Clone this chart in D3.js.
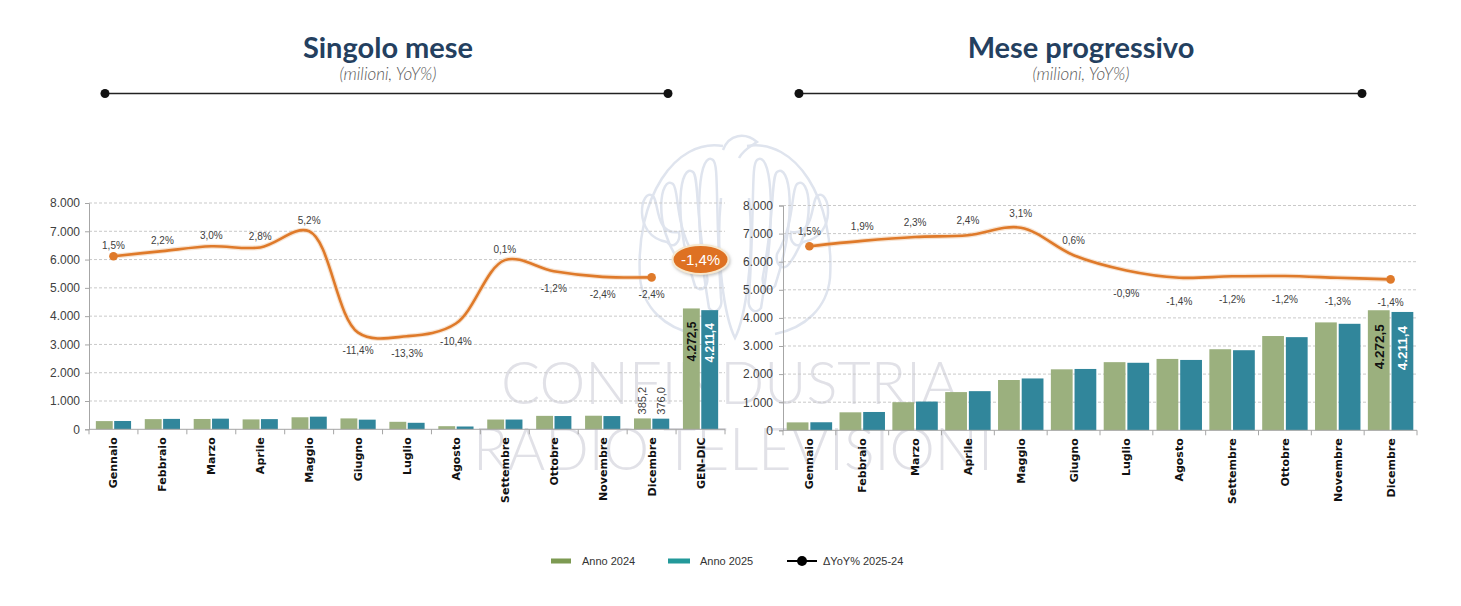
<!DOCTYPE html>
<html>
<head>
<meta charset="utf-8">
<script src="https://cdn.jsdelivr.net/npm/d3@7"></script>
<style>
  body { margin: 0; background: #fff; }
  svg { display: block; }
</style>
</head>
<body>
<div id="chart"></div>
<script>
// ---- data ----
const mesi = ["Gennaio", "Febbraio", "Marzo", "Aprile", "Maggio", "Giugno", "Luglio",
  "Agosto", "Settembre", "Ottobre", "Novembre", "Dicembre"];
const catSingolo = mesi.concat(["GEN-DIC"]);

// singolo mese (milioni)
const singolo2024 = [290, 360, 365, 350, 425, 385, 265, 110, 345, 475, 480, 385.2, 4272.5];
const singolo2025 = [294, 368, 376, 360, 447, 341, 230, 99, 345, 469, 468, 376.0, 4211.4];
const yoySingolo = [1.5, 2.2, 3.0, 2.8, 5.2, -11.4, -13.3, -10.4, 0.1, -1.2, -2.4, -2.4];
// level of the YoY line as drawn on the value axis
const lineSingolo = [6120, 6300, 6470, 6430, 7000, 3420, 3290, 3740, 5980, 5590, 5390, 5370];
const yoyTotale = -1.4;

// mese progressivo (milioni)
const prog2024 = [282, 640, 1000, 1360, 1790, 2170, 2425, 2540, 2885, 3355, 3840, 4272.5];
const prog2025 = [286, 652, 1023, 1393, 1845, 2183, 2403, 2504, 2850, 3315, 3790, 4211.4];
const yoyProg = [1.5, 1.9, 2.3, 2.4, 3.1, 0.6, -0.9, -1.4, -1.2, -1.2, -1.3, -1.4];
const lineProg = [6550, 6740, 6880, 6940, 7210, 6230, 5690, 5430, 5480, 5490, 5430, 5370];

const yTicks = [0, 1000, 2000, 3000, 4000, 5000, 6000, 7000, 8000];
const serie = ["Anno 2024", "Anno 2025"];

// ---- setup ----
const W = 1461, H = 606;
const c24 = "#9bb07e", c25 = "#31869b", cLine = "#df7a2a";

const it = d3.formatLocale({ decimal: ",", thousands: ".", grouping: [3], currency: ["", "€"], minus: "-" });
const fmtK = it.format(",.0f");
const fmtV = it.format(",.1f");
const fmtP = it.format(".1f");

const svg = d3.select("#chart").append("svg")
  .attr("width", W).attr("height", H)
  .style("font-family", "'Liberation Sans', Arial, sans-serif");

svg.append("rect").attr("width", W).attr("height", H).attr("fill", "#fff");

// watermark (logo + name), sits under everything
let wm = svg.append("g").attr("transform", "translate(735,238)")
  .attr("fill", "none").attr("stroke", "#dfe4ee").attr("stroke-width", 2.5);
[-1, 1].forEach(s => {
  for (let k = 0; k < 4; k++) {
    let xt = s * (22 + k * 20), yt = -78 + k * 12;
    let xb = s * (18 + k * 14), yb = 70 - k * 22;
    wm.append("path")
      .attr("d", `M${xt},${yt} C${xt + s * 12},${yt - 10} ${xt + s * 22},${yt + 40} ${xb + s * 8},${yb}
        C${xb + s * 2},${yb + 8} ${xb - s * 6},${yb} ${xb - s * 4},${yb - 10}
        C${xt - s * 2},${yt + 40} ${xt - s * 6},${yt + 5} ${xt},${yt}`);
  }
  wm.append("path")
    .attr("d", `M${s * 12},-92 C${s * 60},-100 ${s * 100},-40 ${s * 95},40 C${s * 92},70 ${s * 70},90 ${s * 40},96`);
});
wm.append("path").attr("d", "M-14,-40 C-20,20 -10,80 0,100 C10,80 20,20 14,-40");
wm.append("path").attr("d", "M-12,-88 C-6,-104 10,-106 22,-96 C16,-92 8,-88 4,-80");
svg.append("text").attr("x", 730).attr("y", 404).attr("text-anchor", "middle")
  .attr("font-family", "Lato, sans-serif").attr("font-weight", 300).attr("font-size", 60)
  .attr("fill", "#e1e1e7").attr("textLength", 458).attr("lengthAdjust", "spacingAndGlyphs")
  .text("CONFINDUSTRIA");
svg.append("text").attr("x", 733).attr("y", 470).attr("text-anchor", "middle")
  .attr("font-family", "Lato, sans-serif").attr("font-weight", 300).attr("font-size", 60)
  .attr("fill", "#e1e1e7").attr("textLength", 520).attr("lengthAdjust", "spacingAndGlyphs")
  .text("RADIO TELEVISIONI");

// titles + rule with dots
function header(cx, x0, x1, title) {
  svg.append("text").attr("x", cx).attr("y", 58).attr("text-anchor", "middle")
    .attr("font-family", "Lato, 'Open Sans', sans-serif").attr("font-weight", 700)
    .attr("font-size", 29).attr("fill", "#24405f").text(title);
  svg.append("text").attr("x", cx).attr("y", 80).attr("text-anchor", "middle")
    .attr("font-family", "Lato, 'Open Sans', sans-serif").attr("font-style", "italic")
    .attr("font-weight", 300).attr("font-size", 17).attr("fill", "#5a5a5a").text("(milioni, YoY%)");
  svg.append("line").attr("x1", x0).attr("x2", x1).attr("y1", 93.5).attr("y2", 93.5)
    .attr("stroke", "#222").attr("stroke-width", 1.5);
  [x0, x1].forEach(x => svg.append("circle").attr("cx", x).attr("cy", 93.5).attr("r", 4.5).attr("fill", "#111"));
}
header(388, 105, 668, "Singolo mese");
header(1081, 799, 1362, "Mese progressivo");

// one panel = bars + smooth yoy line
function panel(o) {
  let w = o.x1 - o.x0, h = o.yBot - o.yTop;
  let g = svg.append("g").attr("transform", `translate(${o.x0},${o.yTop})`);

  let x = d3.scaleBand().domain(o.cats).range([0, w])
    .paddingInner(o.pad).paddingOuter(o.pad / 2);
  let xs = d3.scaleBand().domain(serie).range([0, x.bandwidth()]).paddingInner(0.08);
  let y = d3.scaleLinear().domain([0, 8000]).range([h, 0]);

  // gridlines
  g.append("g").selectAll("line").data(yTicks.slice(1)).join("line")
    .attr("x1", 0).attr("x2", w).attr("y1", d => y(d)).attr("y2", d => y(d))
    .attr("stroke", "#c9c9c9").attr("stroke-dasharray", "3,2");

  // y axis
  let ya = g.append("g").call(d3.axisLeft(y).tickValues(yTicks).tickFormat(fmtK).tickSize(4).tickPadding(o.tickPad));
  ya.select(".domain").attr("stroke", "#a6a6a6");
  ya.selectAll(".tick line").attr("stroke", "#a6a6a6");
  ya.selectAll("text").attr("font-size", 12).attr("fill", "#404040")
    .attr("font-family", "'Liberation Sans', Arial, sans-serif");

  // bars
  let rows = o.cats.map((c, i) => ({ c, i, v: [o.v24[i], o.v25[i]] }));
  let grp = g.append("g").selectAll("g").data(rows).join("g")
    .attr("transform", d => `translate(${x(d.c)},0)`);
  grp.selectAll("rect").data(d => d.v.map((v, j) => ({ s: serie[j], v }))).join("rect")
    .attr("x", d => xs(d.s)).attr("width", xs.bandwidth())
    .attr("y", d => y(d.v)).attr("height", d => h - y(d.v))
    .attr("fill", d => d.s === serie[0] ? c24 : c25);

  // x axis with ticks between categories
  let step = x.step();
  g.append("line").attr("x1", 0).attr("x2", w).attr("y1", h).attr("y2", h)
    .attr("stroke", "#a6a6a6");
  g.append("g").selectAll("line").data(o.cats.concat([null])).join("line")
    .attr("x1", (d, i) => i * step).attr("x2", (d, i) => i * step)
    .attr("y1", h).attr("y2", h + 5).attr("stroke", "#a6a6a6");
  g.append("g").selectAll("text").data(o.cats).join("text")
    .attr("transform", d => `translate(${x(d) + x.bandwidth() / 2},${h + 8}) rotate(-90)`)
    .attr("dy", "0.36em").attr("text-anchor", "end")
    .attr("font-family", "'DejaVu Sans', sans-serif").attr("font-weight", 700)
    .attr("font-size", 11).attr("fill", "#111").text(d => d);

  // value labels
  o.outside.forEach(i => {
    rows[i].v.forEach((v, j) => {
      let cx = x(o.cats[i]) + xs(serie[j]) + xs.bandwidth() / 2;
      g.append("text").attr("transform", `translate(${cx},${y(v) - 4}) rotate(-90)`)
        .attr("dy", "0.35em").attr("font-size", 11).attr("fill", "#404040")
        .text(fmtV(v));
    });
  });
  o.inside.forEach(i => {
    rows[i].v.forEach((v, j) => {
      let cx = x(o.cats[i]) + xs(serie[j]) + xs.bandwidth() / 2;
      g.append("text").attr("transform", `translate(${cx},${y(v) + o.inPad}) rotate(-90)`)
        .attr("dy", "0.36em").attr("text-anchor", "end")
        .attr("font-weight", 700).attr("font-size", o.inSize)
        .attr("fill", j === 0 ? "#111" : "#fff").text(fmtV(v));
    });
  });

  // yoy line
  let pts = o.level.map((v, i) => [x(o.cats[i]) + x.bandwidth() / 2, y(v)]);
  let line = d3.line().curve(d3.curveCatmullRom.alpha(0.5));
  g.append("path").attr("d", line(pts)).attr("fill", "none")
    .attr("stroke", "#f0c7a3").attr("stroke-width", 5).attr("opacity", 0.5);
  g.append("path").attr("d", line(pts)).attr("fill", "none")
    .attr("stroke", cLine).attr("stroke-width", 2.6);
  [0, pts.length - 1].forEach(i => g.append("circle")
    .attr("cx", pts[i][0]).attr("cy", pts[i][1]).attr("r", 4.3).attr("fill", cLine));

  g.append("g").selectAll("text").data(o.yoy).join("text")
    .attr("x", (d, i) => pts[i][0])
    .attr("y", (d, i) => pts[i][1] + (d >= 0 ? o.upOff : o.downOff))
    .attr("text-anchor", "middle").attr("font-size", 10).attr("fill", "#404040")
    .text(d => fmtP(d) + "%");

  return { g, x, y, pts };
}

let left = panel({
  x0: 89, x1: 725, yTop: 203, yBot: 429.3, cats: catSingolo,
  v24: singolo2024, v25: singolo2025, level: lineSingolo, yoy: yoySingolo,
  pad: 0.28, tickPad: 5, outside: [11], inside: [12], inSize: 12, inPad: 13,
  upOff: -7, downOff: 21
});

panel({
  x0: 783, x1: 1417, yTop: 205.5, yBot: 430.3, cats: mesi,
  v24: prog2024, v25: prog2025, level: lineProg, yoy: yoyProg,
  pad: 0.14, tickPad: 6, outside: [], inside: [11], inSize: 13.5, inPad: 14,
  upOff: -11, downOff: 27
});

// total yoy bubble next to the GEN-DIC bars
let last = left.pts[left.pts.length - 1];
let bx = 89 + left.x("GEN-DIC") + left.x.bandwidth() / 2;
let by = 203 + last[1] - 18;
let defs = svg.append("defs");
let f = defs.append("filter").attr("id", "sh").attr("x", "-30%").attr("y", "-30%").attr("width", "160%").attr("height", "160%");
f.append("feDropShadow").attr("dx", 1).attr("dy", 1.5).attr("stdDeviation", 1.5).attr("flood-color", "#999").attr("flood-opacity", 0.6);
svg.append("ellipse").attr("cx", bx).attr("cy", by).attr("rx", 28).attr("ry", 14.5)
  .attr("fill", "#de7120").attr("stroke", "#f6e8cf").attr("stroke-width", 2).attr("filter", "url(#sh)");
svg.append("text").attr("x", bx).attr("y", by).attr("dy", "0.36em").attr("text-anchor", "middle")
  .attr("font-size", 15).attr("fill", "#fff").text(fmtP(yoyTotale) + "%");

// legend
let lg = svg.append("g").attr("transform", "translate(0,561)").attr("font-size", 11).attr("fill", "#333");
lg.append("rect").attr("x", 551).attr("y", -2.5).attr("width", 20).attr("height", 5).attr("fill", "#7d9a52");
lg.append("text").attr("x", 582).attr("dy", "0.35em").text(serie[0]);
lg.append("rect").attr("x", 668).attr("y", -2.5).attr("width", 22).attr("height", 5).attr("fill", "#23999a");
lg.append("text").attr("x", 700).attr("dy", "0.35em").text(serie[1]);
lg.append("line").attr("x1", 787).attr("x2", 817).attr("stroke", "#000").attr("stroke-width", 2);
lg.append("circle").attr("cx", 802).attr("r", 5).attr("fill", "#000");
lg.append("text").attr("x", 823).attr("dy", "0.35em").text("ΔYoY% 2025-24");
</script>
</body>
</html>
